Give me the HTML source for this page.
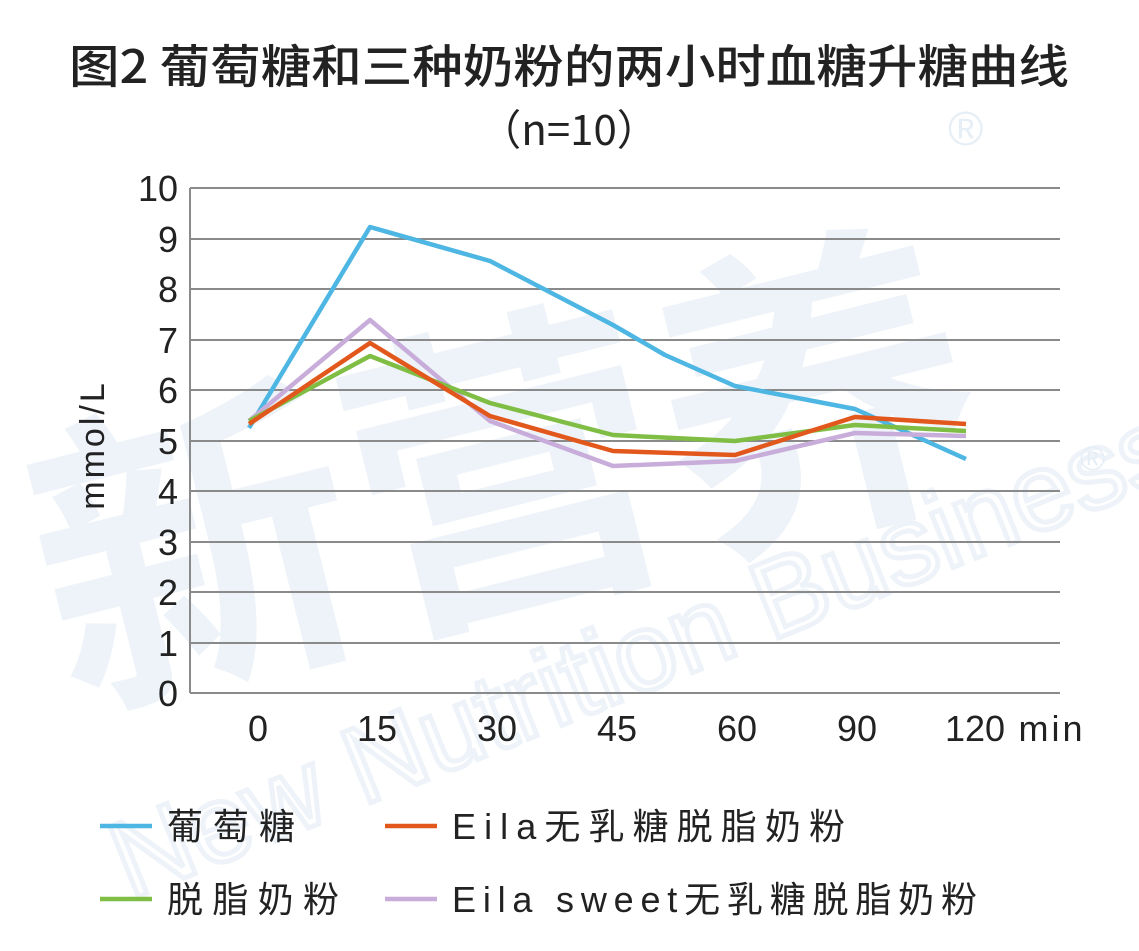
<!DOCTYPE html>
<html><head><meta charset="utf-8"><style>
body{margin:0;background:#fff;}
svg{display:block}
</style></head><body>
<svg width="1139" height="951" viewBox="0 0 1139 951" xmlns="http://www.w3.org/2000/svg" font-family="'Liberation Sans','Noto Sans CJK SC',sans-serif">
<rect width="1139" height="951" fill="#fff"/>
<!-- watermark -->
<g fill="#e6eef6" opacity="0.7">
<text x="20" y="590" font-size="320" font-weight="bold" transform="rotate(-14 500 450)" font-family="'Noto Sans CJK SC',sans-serif">新营养</text>
<text x="130" y="900" font-size="110" transform="rotate(-22 130 900)" fill="none" stroke="#e6eef6" stroke-width="5">New Nutrition Business</text>
</g>
<text x="948" y="145" font-size="48" fill="#e6eef6">®</text>
<text x="1080" y="470" font-size="34" fill="#e6eef6">®</text>
<!-- title -->
<text x="569" y="83" font-size="46" font-weight="500" text-anchor="middle" fill="#222" textLength="1000" lengthAdjust="spacingAndGlyphs" font-family="'Noto Sans CJK SC',sans-serif">图2 葡萄糖和三种奶粉的两小时血糖升糖曲线</text>
<text x="569" y="145" font-size="42" text-anchor="middle" fill="#222" font-family="'Noto Sans CJK SC',sans-serif">（n=10）</text>
<!-- grid -->
<g stroke="#8a8a8a" stroke-width="2">
<line x1="190" y1="188" x2="1060" y2="188"/><line x1="190" y1="239" x2="1060" y2="239"/>
<line x1="190" y1="289" x2="1060" y2="289"/><line x1="190" y1="340" x2="1060" y2="340"/>
<line x1="190" y1="390" x2="1060" y2="390"/><line x1="190" y1="441" x2="1060" y2="441"/>
<line x1="190" y1="491" x2="1060" y2="491"/><line x1="190" y1="542" x2="1060" y2="542"/>
<line x1="190" y1="592" x2="1060" y2="592"/><line x1="190" y1="643" x2="1060" y2="643"/>
<line x1="190" y1="693" x2="1060" y2="693"/><line x1="190" y1="188" x2="190" y2="693"/>
</g>
<g font-size="36" fill="#222" text-anchor="end">
<text x="178" y="201">10</text><text x="178" y="252">9</text><text x="178" y="302">8</text>
<text x="178" y="353">7</text><text x="178" y="403">6</text><text x="178" y="454">5</text>
<text x="178" y="504">4</text><text x="178" y="555">3</text><text x="178" y="605">2</text>
<text x="178" y="656">1</text><text x="178" y="706">0</text>
</g>
<text transform="translate(104 445) rotate(-90)" font-size="34" fill="#222" text-anchor="middle" letter-spacing="3">mmol/L</text>
<g font-size="36" fill="#222" text-anchor="middle">
<text x="258" y="741">0</text><text x="377" y="741">15</text><text x="497" y="741">30</text>
<text x="617" y="741">45</text><text x="737" y="741">60</text><text x="857" y="741">90</text>
<text x="975" y="741">120</text><text x="1052" y="741" letter-spacing="3">min</text>
</g>
<!-- series -->
<g fill="none" stroke-width="4.5" stroke-linejoin="round">
<polyline stroke="#4db6e2" points="249,428 370,227 490,261 613,325 665,355 735,386 855,409 966,459"/>
<polyline stroke="#c8acd9" points="249,421 370,320 490,421 613,466 735,461 855,433 966,436"/>
<polyline stroke="#7fbd44" points="249,421 370,356 490,403 613,435 735,441 855,425 966,431"/>
<polyline stroke="#e2581c" points="249,424 370,343 490,416 613,451 735,455 855,417 966,424"/>
</g>
<!-- legend -->
<g stroke-width="4.5">
<line x1="100" y1="826" x2="152" y2="826" stroke="#4db6e2"/>
<line x1="385" y1="826" x2="437" y2="826" stroke="#e2581c"/>
<line x1="100" y1="899" x2="152" y2="899" stroke="#7fbd44"/>
<line x1="385" y1="899" x2="437" y2="899" stroke="#c8acd9"/>
</g>
<g font-size="36" fill="#222">
<text x="167" y="839" textLength="128" lengthAdjust="spacing">葡萄糖</text>
<text x="452" y="839" textLength="393" lengthAdjust="spacing">Eila无乳糖脱脂奶粉</text>
<text x="167" y="912" textLength="172" lengthAdjust="spacing">脱脂奶粉</text>
<text x="452" y="912" textLength="525" lengthAdjust="spacing">Eila sweet无乳糖脱脂奶粉</text>
</g>
</svg>
</body></html>
